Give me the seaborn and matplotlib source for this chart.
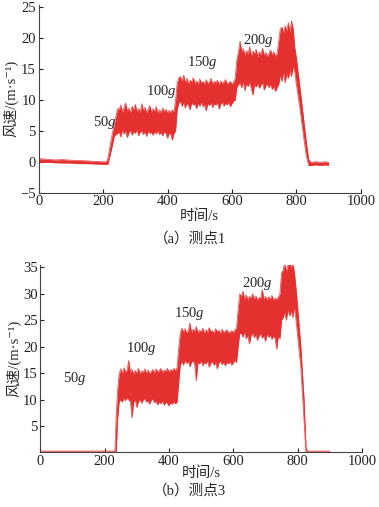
import matplotlib
matplotlib.use("Agg")
import matplotlib.pyplot as plt
import seaborn as sns

# panel (a): measuring point 1, envelope of the wind speed record
time_a = [0, 25, 50, 75, 100, 125, 150, 175, 200, 210,
          215, 225, 235, 245,
          250, 255, 260, 265, 270, 275, 280, 285, 290, 295, 300, 305, 310, 315, 320, 325, 330, 335,
          340, 345, 350, 355, 360, 365, 370, 375, 380, 385, 390, 395, 400, 405, 410, 415, 420,
          425, 430, 435,
          440, 445, 450, 455, 460, 465, 470, 475, 480, 485, 490, 495, 500, 505, 510, 515, 520,
          525, 530, 535, 540, 545, 550, 555, 560, 565, 570, 575, 580, 585, 590, 595, 600, 605,
          610, 615, 620,
          625, 630, 635, 640, 645, 650, 655, 660, 665, 670, 675, 680, 685, 690, 695, 700, 705,
          710, 715, 720, 725, 730, 735, 740,
          745, 750,
          755, 760, 765, 770, 775, 780, 785, 790,
          795, 800, 810, 820, 830, 838, 845, 860, 875, 890, 900]
upper_a = [0.5, 0.4, 0.3, 0.35, 0.25, 0.2, 0.15, 0.05, 0.0, 0.0,
           0.6, 3.6, 6.2, 8.6,
           8.5, 9.2, 8.0, 8.8, 9.5, 8.2, 8.7, 7.9, 9.0, 8.4, 9.3, 8.1, 8.6, 8.0, 9.4, 8.3, 8.8, 7.9,
           8.5, 9.1, 8.0, 8.6, 8.2, 8.9, 7.8, 8.4, 8.0, 8.7, 8.1, 8.5, 7.9, 8.3, 8.0, 8.4, 8.1,
           10.0, 12.8, 13.6,
           13.8, 13.0, 14.0, 12.8, 13.5, 12.6, 13.2, 12.9, 13.6, 12.7, 13.1, 12.5, 13.4, 12.8, 13.0,
           12.6, 13.3, 12.7, 12.9, 13.5, 12.6, 13.0, 12.8, 13.2, 12.5, 13.1, 12.7, 12.9, 13.3, 12.6,
           12.8, 13.0, 12.6, 12.9,
           13.5, 16.5, 17.8,
           19.5, 17.8, 18.3, 17.2, 18.0, 17.4, 18.6, 17.1, 17.9, 17.5, 18.2, 17.0, 17.8, 17.3, 18.4,
           17.2, 17.7, 17.0, 17.6, 18.1, 17.3, 17.8, 17.1, 17.5,
           19.5, 21.5,
           21.8, 20.9, 22.0, 21.2, 22.5, 21.0, 22.8, 21.5,
           18.5, 16.8, 12.5, 8.0, 3.5, 0.4, -0.1, 0.0, -0.1, 0.0, -0.1]
lower_a = [-0.1, -0.1, -0.15, -0.2, -0.2, -0.3, -0.3, -0.35, -0.4, -0.4,
           -0.4, 1.8, 4.2, 4.6,
           4.8, 4.0, 5.2, 4.5, 5.0, 3.9, 4.7, 5.1, 4.3, 4.9, 4.6, 5.2, 4.2, 4.8, 5.0, 4.4, 4.9, 4.1,
           5.0, 4.6, 4.8, 4.3, 4.9, 4.5, 5.1, 4.4, 4.8, 4.2, 4.9, 4.6, 3.8, 4.7, 4.4, 3.5, 4.6,
           5.0, 8.5, 9.5,
           9.8, 9.0, 9.6, 8.7, 9.5, 9.1, 8.4, 9.6, 9.2, 9.4, 8.6, 9.5, 9.0, 9.7, 8.9, 9.3, 8.2,
           9.5, 9.1, 9.6, 8.8, 9.4, 9.2, 9.6, 8.5, 9.3, 9.7, 9.0, 9.5, 9.2, 9.6, 8.9, 9.4, 9.8,
           10.0, 12.0, 12.5,
           12.8, 12.0, 13.0, 11.5, 12.6, 12.2, 12.9, 11.8, 10.8, 12.5, 12.1, 12.7, 11.9, 12.4, 12.8,
           11.6, 12.3, 12.6, 12.0, 12.5, 11.7, 12.2, 11.4, 12.0,
           12.5, 14.0,
           13.0, 14.5, 12.8, 14.2, 13.5, 14.8, 13.8, 15.5,
           14.5, 12.5, 9.0, 5.0, 1.2, -0.6, -0.6, -0.5, -0.6, -0.5, -0.6]

# panel (b): measuring point 3
time_b = [0, 100, 200, 232,
          236, 240, 245,
          250, 255, 260, 265, 270, 275, 280, 285, 290, 295, 300, 305, 310, 315, 320, 325, 330, 335,
          340, 345, 350, 355, 360, 365, 370, 375, 380, 385, 390, 395, 400, 405, 410, 415, 420,
          425, 430, 435,
          440, 445, 450, 455, 460, 465, 470, 475, 480, 485, 490, 495, 500, 505, 510, 515, 520,
          525, 530, 535, 540, 545, 550, 555, 560, 565, 570, 575, 580, 585, 590, 595, 600, 605,
          610, 615, 620,
          625, 630, 635, 640, 645, 650, 655, 660, 665, 670, 675, 680, 685, 690, 695, 700, 705,
          710, 715, 720, 725, 730, 735, 740,
          745, 750,
          755, 760, 765, 770, 775, 780, 785, 790,
          795, 800, 810, 820, 826, 830, 860, 900]
upper_b = [0.25, 0.25, 0.25, 0.25,
           7.0, 11.5, 14.8,
           15.8, 15.0, 16.0, 15.2, 15.6, 17.4, 15.1, 15.7, 14.8, 15.5, 15.0, 15.9, 14.9, 15.4, 15.1,
           15.8, 15.0, 15.6, 14.9, 15.3, 15.7, 15.0, 15.8, 15.2, 15.5, 15.9, 15.1, 15.6, 15.3, 15.9,
           15.2, 15.7, 15.4, 15.9, 15.5,
           16.0, 19.5, 22.5,
           23.5, 22.8, 23.4, 22.6, 23.0, 24.5, 22.7, 23.3, 22.9, 23.8, 22.6, 23.1, 22.8, 23.5, 22.5,
           23.2, 22.7, 23.6, 22.9, 23.0, 22.6, 23.4, 22.8, 23.1, 22.5, 23.3, 22.7, 22.9, 23.2, 22.6,
           22.8, 23.0, 22.7, 23.2,
           23.5, 27.0, 30.0,
           29.5, 30.5, 29.0, 29.8, 28.9, 29.5, 29.2, 30.0, 29.0, 29.6, 28.8, 29.3, 29.1, 30.8, 29.0,
           29.5, 28.9, 29.4, 29.0, 29.7, 28.8, 29.2, 28.9, 29.4,
           30.0, 34.0,
           34.5, 35.8, 34.2, 35.5, 36.5, 34.8, 35.9, 34.0,
           31.0, 27.5, 20.0, 10.0, 1.0, 0.25, 0.25, 0.25]
lower_b = [0.0, 0.0, 0.0, 0.0,
           0.0, 6.0, 9.5,
           10.0, 9.5, 10.3, 9.8, 10.4, 9.9, 9.7, 6.5, 9.4, 10.0, 8.5, 9.6, 10.1, 9.3, 9.9,
           10.2, 9.5, 9.8, 9.1, 9.9, 10.1, 9.4, 9.7, 9.0, 9.6, 9.2, 9.8, 8.9, 9.5, 9.3,
           8.8, 9.4, 9.1, 9.6, 9.2,
           9.5, 13.0, 16.5,
           17.2, 16.5, 17.5, 16.8, 17.3, 16.2, 17.0, 17.4, 16.6, 13.5, 17.1, 16.7, 17.4, 16.4, 17.0,
           16.8, 17.3, 16.1, 16.9, 17.2, 16.5, 17.0, 15.8, 16.9, 17.3, 16.6, 17.1, 16.4, 17.0, 16.8,
           17.2, 16.5, 17.0, 17.4,
           17.0, 20.0, 22.5,
           22.5, 21.8, 22.8, 21.5, 22.2, 20.5, 22.0, 22.6, 21.7, 22.3, 21.2, 22.0, 22.5, 21.6, 22.1,
           21.0, 22.4, 21.8, 22.2, 21.4, 22.0, 21.6, 19.5, 22.0,
           21.5, 25.0,
           25.5, 26.5, 25.0, 27.0, 25.8, 26.8, 25.5, 27.5,
           25.0, 22.0, 16.0, 6.0, 0.0, 0.0, 0.0, 0.0]

# load labels and where they sit (time, speed)
load_labels = ["50", "100", "150", "200"]
label_pos_a = [(205, 6.3), (382, 11.3), (509, 16.1), (681, 19.6)]
label_pos_b = [(108, 14.0), (313, 19.7), (465, 26.3), (674, 32.0)]

sns.set_theme(style="ticks")
plt.rcParams['font.family'] = ['Liberation Serif', 'Noto Sans CJK SC', 'DejaVu Serif']
plt.rcParams['mathtext.fontset'] = 'custom'
plt.rcParams['mathtext.rm'] = 'Liberation Serif'
plt.rcParams['mathtext.it'] = 'Liberation Serif:italic'
plt.rcParams['axes.unicode_minus'] = True

red = "#e4302e"
fs = 10.5
fig = plt.figure(figsize=(3.79, 5.07), dpi=100)
ax_a = fig.add_axes([0.102, 0.620, 0.850, 0.3705])
ax_b = fig.add_axes([0.1063, 0.1077, 0.8487, 0.3703])


def draw_panel(ax, t, hi, lo, labels_pos, xpad):
    ax.fill_between(t, lo, hi, color=red, lw=0)
    sns.lineplot(x=t, y=hi, ax=ax, color=red, lw=0.6, alpha=0.8)
    sns.lineplot(x=t, y=lo, ax=ax, color=red, lw=0.6, alpha=0.8)
    for lab, (x, y) in zip(load_labels, labels_pos):
        ax.text(x, y, lab + "$g$", ha="center", va="center", fontsize=fs,
                family="Liberation Serif")
    ax.set_xlim(0, 1000)
    ax.set_xticks([0, 200, 400, 600, 800, 1000])
    ax.tick_params(direction="in", length=3, width=0.8, labelsize=fs, pad=2,
                   colors="#222222")
    for sp in ["left", "bottom"]:
        ax.spines[sp].set_linewidth(0.8)
        ax.spines[sp].set_color("#444444")
    sns.despine(ax=ax)
    ax.set_xlabel("时间/s", fontsize=fs, labelpad=xpad)
    ax.set_ylabel("风速/(m·s⁻¹)", fontsize=fs, labelpad=1)


draw_panel(ax_a, time_a, upper_a, lower_a, label_pos_a, 1)
ax_a.set_ylim(-5, 25.4)
ax_a.set_yticks([-5, 0, 5, 10, 15, 20, 25])

draw_panel(ax_b, time_b, upper_b, lower_b, label_pos_b, -1)
ax_b.set_ylim(0, 35.5)
ax_b.set_yticks([5, 10, 15, 20, 25, 30, 35])

fig.text(0.5, 1 - 239 / 507, "（a）测点1", ha="center", va="center", fontsize=fs)
fig.text(0.5, 1 - 491 / 507, "（b）测点3", ha="center", va="center", fontsize=fs)

fig.savefig("out.png", dpi=100)
